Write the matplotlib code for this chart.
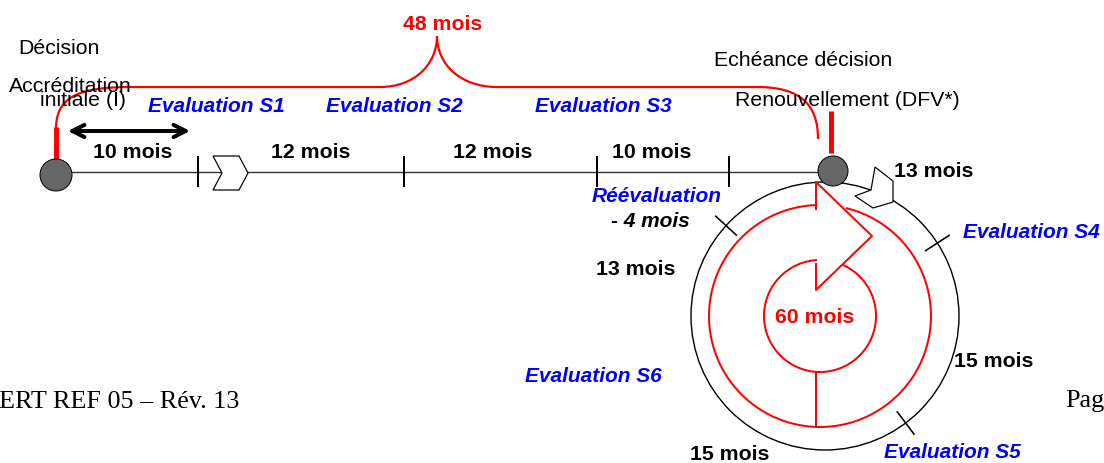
import numpy as np
import matplotlib.pyplot as plt
from matplotlib.patches import Circle, Polygon, PathPatch
from matplotlib.path import Path

# --- diagram content ---
first_cycle_total = 48          # months, first accreditation cycle
renewal_cycle_total = 60        # months, renewal cycle
timeline_months = [10, 12, 12, 10]
top_evals = ["Evaluation S1", "Evaluation S2", "Evaluation S3"]
reeval_offset = -4
cycle_months = [13, 15, 15, 13]
cycle_evals = ["Evaluation S4", "Evaluation S5", "Evaluation S6"]
start_label = ["Décision", "Accréditation", "initiale (I)"]
end_label = ["Echéance décision", "Renouvellement (DFV*)"]
footer_left = "ERT REF 05 – Rév. 13"
footer_right = "Pag"

# --- layout (pixel coordinates of the 1104x464 canvas) ---
SANS = "Liberation Sans"
SERIF = "Liberation Serif"
BLUE = "#0000FF"
RED = "#FF0000"
PT = 72 / 100  # pixels -> points
FS_BOLD = 15.3
FS_REG = 15.3

tl_y = 173
tl_start, tl_end = 56, 833
tick_x = [198, 404, 597, 729]
seg_label_x = [133, 311, 493, 652]
eval_x = [216, 394, 603]

cx, cy = 825, 317      # black cycle circle
rr = 134
ax_c, ay_c = 820, 317  # red circular arrow centre
r_out, r_in = 111, 56

fig = plt.figure(figsize=(11.04, 4.64), dpi=100)
ax = fig.add_axes([0, 0, 1, 1])
ax.set_xlim(0, 1104)
ax.set_ylim(464, 0)
ax.axis("off")

# timeline
ax.plot([tl_start, tl_end], [tl_y, tl_y], color="#333333", lw=1.4 * PT, zorder=1)
for x in tick_x:
    ax.plot([x, x], [tl_y - 15, tl_y + 14], color="black", lw=2 * PT, zorder=2)
for x, m in zip(seg_label_x, timeline_months):
    ax.text(x, 153, f"{m} mois", ha="center", va="center", fontsize=FS_BOLD,
            fontweight="bold", family=SANS)
for x, lab in zip(eval_x, top_evals):
    ax.text(x, 106, lab, ha="center", va="center", fontsize=15,
            fontweight="bold", style="italic", color=BLUE, family=SANS)

# chevron on the timeline
chev = Polygon([(213, 157), (239, 157), (248, 174), (239, 191), (213, 191), (222, 174)],
               closed=True, facecolor="white", edgecolor="black", lw=1.2 * PT, zorder=3)
ax.add_patch(chev)

# double arrow over first segment
ax.annotate("", xy=(193, 132), xytext=(65, 132),
            arrowprops=dict(arrowstyle="<->", lw=4 * PT, color="black",
                            mutation_scale=22))

# red bracket "48 mois"
verts = [(56, 130), (56, 100), (75, 88), (130, 88),
         (380, 88),
         (415, 88), (437, 65), (437, 37),
         (437, 65), (460, 88), (497, 88),
         (757, 88),
         (800, 88), (818, 105), (818, 140)]
codes = [Path.MOVETO, Path.CURVE4, Path.CURVE4, Path.CURVE4,
         Path.LINETO,
         Path.CURVE4, Path.CURVE4, Path.CURVE4,
         Path.CURVE4, Path.CURVE4, Path.CURVE4,
         Path.LINETO,
         Path.CURVE4, Path.CURVE4, Path.CURVE4]
ax.add_patch(PathPatch(Path(verts, codes), facecolor="none", edgecolor=RED, lw=2.2 * PT))
ax.plot([56, 56], [128, 161], color=RED, lw=5 * PT, solid_capstyle="butt")
ax.plot([831, 831], [112, 154], color=RED, lw=5 * PT, solid_capstyle="butt")
ax.text(443, 25, f"{first_cycle_total} mois", ha="center", va="center", fontsize=FS_BOLD,
        fontweight="bold", color=RED, family=SANS)

# start / end labels
ax.text(59, 48, start_label[0], ha="center", va="center", fontsize=FS_REG, family=SANS)
ax.text(70, 86, start_label[1], ha="center", va="center", fontsize=FS_REG, family=SANS)
ax.text(83, 100, start_label[2], ha="center", va="center", fontsize=FS_REG, family=SANS)
ax.text(803, 60, end_label[0], ha="center", va="center", fontsize=FS_REG, family=SANS)
ax.text(847, 100, end_label[1], ha="center", va="center", fontsize=FS_REG, family=SANS)

# black cycle circle with ticks
ax.add_patch(Circle((cx, cy), rr, facecolor="none", edgecolor="black", lw=1.4 * PT, zorder=2))
for ang in [137.6, 33, -53]:
    t = np.deg2rad(ang)
    ax.plot([cx + 120 * np.cos(t), cx + 148 * np.cos(t)],
            [cy - 120 * np.sin(t), cy - 148 * np.sin(t)], color="black", lw=1.6 * PT, zorder=2)

# red circular arrow
t_out = np.deg2rad(np.linspace(92, 436, 300))
ax.plot(ax_c + r_out * np.cos(t_out), ay_c - r_out * np.sin(t_out), color=RED, lw=2 * PT, zorder=3)
t_in = np.deg2rad(np.linspace(94, 425, 300))
ax.plot(ax_c + r_in * np.cos(t_in), ay_c - r_in * np.sin(t_in), color=RED, lw=2 * PT, zorder=3)
head = np.array([(816, 210), (816, 183), (872, 237), (816, 291), (816, 265)])
ax.plot(head[:, 0], head[:, 1], color=RED, lw=2 * PT, zorder=3)
ax.plot([816, 816], [ay_c + r_in, ay_c + r_out], color=RED, lw=2 * PT, zorder=3)
ax.text(ax_c - 5, 318, f"{renewal_cycle_total} mois", ha="center", va="center", fontsize=FS_BOLD,
        fontweight="bold", color=RED, family=SANS)

# chevron on the cycle
chev2 = Polygon([(875, 168), (893, 182), (893, 203), (873, 209), (855, 197), (871, 191)],
                closed=True, facecolor="white", edgecolor="black", lw=1.2 * PT, zorder=4)
ax.add_patch(chev2)

# dots
ax.add_patch(Circle((56, 176), 16, facecolor="#666666", edgecolor="black", lw=1 * PT, zorder=5))
ax.add_patch(Circle((833, 172), 15, facecolor="#666666", edgecolor="black", lw=1 * PT, zorder=5))

# cycle labels
ax.text(657, 197, "Réévaluation", ha="center", va="center", fontsize=15,
        fontweight="bold", style="italic", color=BLUE, family=SANS)
ax.text(650, 222, f"- {abs(reeval_offset)} mois", ha="center", va="center", fontsize=15,
        fontweight="bold", style="italic", family=SANS)
cycle_lab_pos = [(934, 172), (994, 362), (730, 455), (636, 270)]
for (x, y), m in zip(cycle_lab_pos, cycle_months):
    ax.text(x, y, f"{m} mois", ha="center", va="center", fontsize=FS_BOLD,
            fontweight="bold", family=SANS)
eval_pos = [(1031, 233), (952, 453), (593, 377)]
for (x, y), lab in zip(eval_pos, cycle_evals):
    ax.text(x, y, lab, ha="center", va="center", fontsize=15,
            fontweight="bold", style="italic", color=BLUE, family=SANS)

# page footer fragments
ax.text(-1, 408, footer_left, ha="left", va="baseline", fontsize=18.8, family=SERIF)
ax.text(1065, 407, footer_right, ha="left", va="baseline", fontsize=18.8, family=SERIF)

fig.savefig("out.png", dpi=100)
